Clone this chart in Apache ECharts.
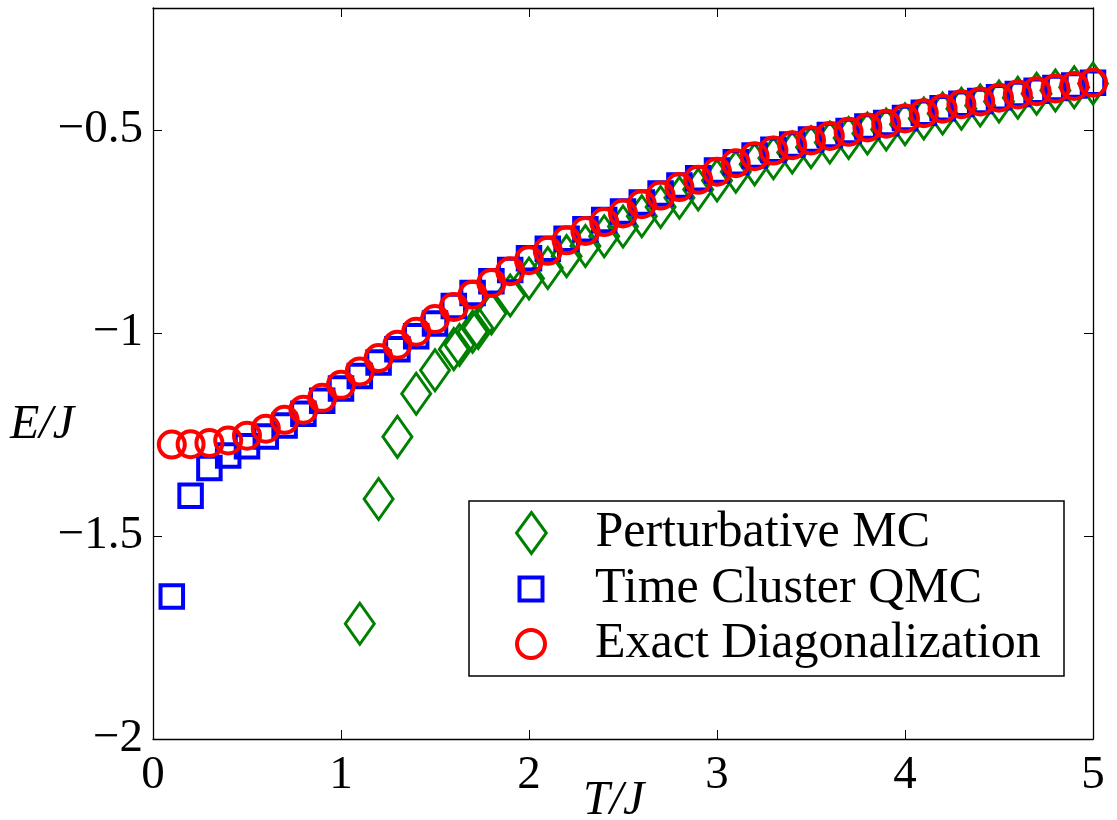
<!DOCTYPE html>
<html>
<head>
<meta charset="utf-8">
<script src="https://cdn.jsdelivr.net/npm/echarts@6/dist/echarts.min.js"></script>
<style>
html,body{margin:0;padding:0;background:#fff;}
#chart{width:1117px;height:820px;}
</style>
</head>
<body>
<div id="chart"></div>
<script>
// ---- data ----
const tempsED = [0.1,0.2,0.3,0.4,0.5,0.6,0.7,0.8,0.9,1.0,1.1,1.2,1.3,1.4,1.5,1.6,1.7,1.8,1.9,2.0,
  2.1,2.2,2.3,2.4,2.5,2.6,2.7,2.8,2.9,3.0,3.1,3.2,3.3,3.4,3.5,3.6,3.7,3.8,3.9,4.0,
  4.1,4.2,4.3,4.4,4.5,4.6,4.7,4.8,4.9,5.0];
const energyED = [-1.275,-1.274,-1.271,-1.265,-1.253,-1.236,-1.214,-1.189,-1.160,-1.128,
  -1.095,-1.062,-1.029,-0.997,-0.966,-0.936,-0.906,-0.877,-0.848,-0.821,
  -0.798,-0.772,-0.749,-0.727,-0.706,-0.683,-0.662,-0.641,-0.623,-0.603,
  -0.582,-0.565,-0.551,-0.538,-0.526,-0.515,-0.505,-0.494,-0.485,-0.472,
  -0.459,-0.448,-0.437,-0.430,-0.421,-0.413,-0.405,-0.398,-0.392,-0.384];

const tempsQMC = [0.1,0.2,0.3,0.4,0.5,0.6,0.7,0.8,0.9,1.0,1.1,1.2,1.3,1.4,1.5,1.6,1.7,1.8,1.9,2.0,
  2.1,2.2,2.3,2.4,2.5,2.6,2.7,2.8,2.9,3.0,3.1,3.2,3.3,3.4,3.5,3.6,3.7,3.8,3.9,4.0,
  4.1,4.2,4.3,4.4,4.5,4.6,4.7,4.8,4.9,5.0];
const energyQMC = [-1.649,-1.401,-1.333,-1.302,-1.279,-1.255,-1.228,-1.199,-1.167,-1.137,
  -1.106,-1.073,-1.040,-1.008,-0.977,-0.934,-0.902,-0.873,-0.845,-0.816,
  -0.793,-0.768,-0.745,-0.722,-0.701,-0.679,-0.657,-0.637,-0.619,-0.600,
  -0.580,-0.563,-0.549,-0.536,-0.524,-0.513,-0.503,-0.492,-0.483,-0.471,
  -0.458,-0.447,-0.436,-0.429,-0.420,-0.412,-0.404,-0.397,-0.391,-0.384];

const tempsPMC = [1.1,1.2,1.3,1.4,1.5,1.6,1.63,1.7,1.73,1.8,1.9,2.0,
  2.1,2.2,2.3,2.4,2.5,2.6,2.7,2.8,2.9,3.0,3.1,3.2,3.3,3.4,3.5,3.6,3.7,3.8,3.9,4.0,
  4.1,4.2,4.3,4.4,4.5,4.6,4.7,4.8,4.9,5.0];
const energyPMC = [-1.716,-1.409,-1.256,-1.150,-1.092,-1.040,-1.030,-0.997,-0.988,-0.952,-0.908,-0.866,
  -0.840,-0.811,-0.786,-0.762,-0.738,-0.713,-0.690,-0.667,-0.647,-0.625,
  -0.603,-0.585,-0.570,-0.556,-0.543,-0.531,-0.520,-0.509,-0.499,-0.486,
  -0.472,-0.460,-0.448,-0.440,-0.430,-0.421,-0.411,-0.403,-0.395,-0.386];

const seriesNames = ['Perturbative MC', 'Time Cluster QMC', 'Exact Diagonalization'];
const xTickValues = [0,1,2,3,4,5];
const yTickValues = [-2,-1.5,-1,-0.5];
const xLabel = 'T/J';
const yLabel = 'E/J';

// ---- styling ----
const FONT = '"Liberation Serif", "Times New Roman", serif';
const GREEN = '#008000', BLUE = '#0000ff', RED = '#ff0000';
const zip = (xs, ys) => xs.map((x, i) => [x, ys[i]]);
const fmt = v => {
  const ok = yTickValues.some(t => Math.abs(t - v) < 1e-9) || xTickValues.some(t => Math.abs(t - v) < 1e-9);
  return ok ? String(v).replace('-', '\u2212') : '';
};

const axisCommon = {
  type: 'value',
  axisLine: { show: true, onZero: false, lineStyle: { color: '#000', width: 1.3 } },
  axisTick: { show: true, inside: true, length: 9, lineStyle: { color: '#000', width: 1 } },
  splitLine: { show: false }
};
const legendText = { fontFamily: FONT, fontSize: 50, color: '#000', lineHeight: 50 };

const chart = echarts.init(document.getElementById('chart'), null, { renderer: 'canvas' });
chart.setOption({
  animation: false,
  backgroundColor: '#fff',
  grid: { left: 153, right: 24, top: 8, bottom: 81, containLabel: false },
  xAxis: [
    Object.assign({}, axisCommon, {
      min: 0, max: 5, interval: 1, position: 'bottom',
      axisLabel: { show: true, formatter: fmt, fontFamily: FONT, fontSize: 47, color: '#000', margin: 13 }
    }),
    Object.assign({}, axisCommon, {
      min: 0, max: 5, interval: 1, position: 'top',
      axisLabel: { show: false }
    })
  ],
  yAxis: [
    Object.assign({}, axisCommon, {
      min: -2, max: -0.2, interval: 0.5, position: 'left',
      axisLabel: { show: true, formatter: fmt, showMaxLabel: false, fontFamily: FONT, fontSize: 47, color: '#000', margin: 10 }
    }),
    Object.assign({}, axisCommon, {
      min: -2, max: -0.2, interval: 0.5, position: 'right',
      axisLabel: { show: false }
    })
  ],
  legend: [
    {
      data: [{ name: seriesNames[0], icon: 'path://M0,-22L16,0L0,22L-16,0Z' }],
      left: 515, top: 508, padding: 0, itemWidth: 118, itemHeight: 41, selectedMode: false,
      itemStyle: { color: 'transparent', borderColor: GREEN, borderWidth: 3, opacity: 1 },
      textStyle: legendText
    },
    {
      data: [{ name: seriesNames[1], icon: 'path://M0,0L10,0L10,10L0,10Z' }],
      left: 517.5, top: 564, padding: 0, itemWidth: 118, itemHeight: 23, selectedMode: false,
      itemStyle: { color: 'transparent', borderColor: BLUE, borderWidth: 4, opacity: 1 },
      textStyle: legendText
    },
    {
      data: [{ name: seriesNames[2], icon: 'circle' }],
      left: 515, top: 619, padding: 0, itemWidth: 118, itemHeight: 28, selectedMode: false,
      itemStyle: { color: 'transparent', borderColor: RED, borderWidth: 4, opacity: 1 },
      textStyle: legendText
    }
  ],
  graphic: [
    { type: 'rect', z: 3, shape: { x: 469, y: 501, width: 595, height: 175 },
      style: { fill: '#fff', stroke: '#000', lineWidth: 1.5 } },
    { type: 'text', z: 5, x: 10, y: 425,
      style: { text: yLabel, font: 'italic 48px ' + FONT, fill: '#000', align: 'left', verticalAlign: 'middle' } },
    { type: 'text', z: 5, x: 583, y: 801,
      style: { text: xLabel, font: 'italic 48px ' + FONT, fill: '#000', align: 'left', verticalAlign: 'middle' } }
  ],
  series: [
    { name: seriesNames[0], type: 'scatter', data: zip(tempsPMC, energyPMC), silent: true,
      symbol: 'diamond', symbolSize: [29, 41],
      itemStyle: { color: 'transparent', borderColor: GREEN, borderWidth: 3, opacity: 1 }, emphasis: { disabled: true } },
    { name: seriesNames[1], type: 'scatter', data: zip(tempsQMC, energyQMC), silent: true,
      symbol: 'rect', symbolSize: 22.5,
      itemStyle: { color: 'transparent', borderColor: BLUE, borderWidth: 4, opacity: 1 }, emphasis: { disabled: true } },
    { name: seriesNames[2], type: 'scatter', data: zip(tempsED, energyED), silent: true,
      symbol: 'circle', symbolSize: 26,
      itemStyle: { color: 'transparent', borderColor: RED, borderWidth: 4, opacity: 1 }, emphasis: { disabled: true } }
  ]
});
</script>
</body>
</html>
